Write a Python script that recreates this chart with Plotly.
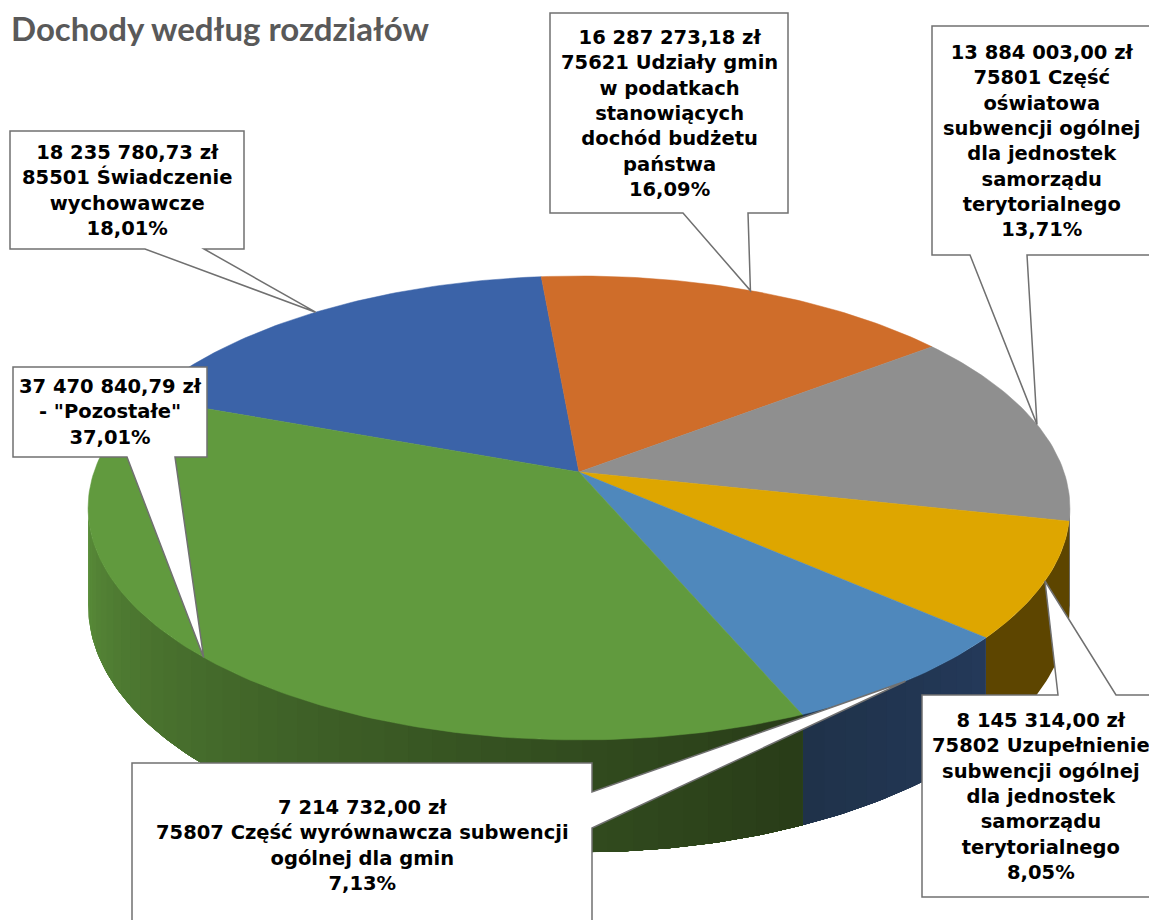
import math
import plotly.graph_objects as go

# ---------------- data ----------------
codes = ["85501 Świadczenie<br>wychowawcze",
         "75621 Udziały gmin<br>w podatkach<br>stanowiących<br>dochód budżetu<br>państwa",
         "75801 Część<br>oświatowa<br>subwencji ogólnej<br>dla jednostek<br>samorządu<br>terytorialnego",
         "75802 Uzupełnienie<br>subwencji ogólnej<br>dla jednostek<br>samorządu<br>terytorialnego",
         "75807 Część wyrównawcza subwencji<br>ogólnej dla gmin",
         "- \"Pozostałe\""]
values = [18235780.73, 16287273.18, 13884003.00, 8145314.00, 7214732.00, 37470840.79]
title_text = "Dochody według rozdziałów"

# ---------------- styles / layout geometry ----------------
W, H = 1149, 920
top_colors = ["#3B63A8", "#CF6D2A", "#8F8F8F", "#DEA600", "#4F88BC", "#619A3E"]
wall_colors = [("#2A3F6E", "#2A3F6E"), ("#7A3F16", "#7A3F16"), ("#4D4D4D", "#4D4D4D"),
               ("#5D4500", "#5D4500"), ("#24395A", "#1F3249"), ("#5C913B", "#283C18")]
CX, CY = 579.0, 472.0      # projected pie centre
A, B, K = 485.0, 226.4, 0.155   # perspective ellipse parameters
D0 = 95.0                  # thickness
START = 160.0              # first slice angle (deg, math convention), clockwise
# callout boxes: (x0, y0, x1, y1, side, b1, b2)
boxes = [(10, 131, 244, 249, "bottom", 145, 204),
         (550, 13, 788, 213, "bottom", 683, 748),
         (932, 26, 1152, 255, "bottom", 970, 1027),
         (922, 695, 1160, 897, "top", 1058, 1116),
         (132, 763, 592, 927, "right", 792, 828),
         (13, 367, 207, 457, "bottom", 127, 175)]
label_font = dict(family="DejaVu Sans", size=19.5, color="#000000")
border = "#707070"


def proj(theta, drop=False):
    t = math.radians(theta)
    u, v = math.cos(t), math.sin(t)
    w = 1 + K * v
    x = CX + A * u / w
    y = CY - B * v / w
    if drop:
        y += D0 / w
    return x, y


def hex2rgb(h):
    h = h.lstrip("#")
    return tuple(int(h[i:i + 2], 16) for i in (0, 2, 4))


def lerp(c1, c2, t):
    a, b = hex2rgb(c1), hex2rgb(c2)
    return "rgb(%d,%d,%d)" % tuple(round(a[i] + (b[i] - a[i]) * t) for i in range(3))


def fmt_amount(v):
    s = "{:,.2f}".format(v)
    ip, dp = s.split(".")
    return ip.replace(",", " ") + "," + dp + " zł"


def angles(a1, a2, step=1.0):
    n = max(2, int(abs(a1 - a2) / step) + 1)
    return [a1 + (a2 - a1) * k / n for k in range(n + 1)]


total = sum(values)
fracs = [v / total for v in values]
starts, ends = [], []
a = START
for f in fracs:
    starts.append(a)
    ends.append(a - 360 * f)
    a -= 360 * f

fig = go.Figure()

# ---------------- side walls (overlapping bands -> no seams) ----------------
phis = math.degrees(math.asin(K))
vis_lo, vis_hi = -180 + phis, -phis
for i in range(len(values)):
    for shift in (-360, 0, 360):
        s, e = starts[i] + shift, ends[i] + shift
        hi, lo = min(s, vis_hi), max(e, vis_lo)
        if hi <= lo:
            continue
        c_light, c_dark = wall_colors[i]
        nseg = max(1, int((hi - lo) / 2.5)) if c_light != c_dark else 1
        for j in range(nseg):
            tt = (j + 0.5) / nseg
            if i == 5:
                # green wall: lighter on the left (lo), darker toward the right (hi)
                a1 = lo + (hi - lo) * j / nseg
                col = lerp(c_light, c_dark, tt ** 0.8)
                angs = angles(a1, hi)
            else:
                a1 = hi - (hi - lo) * j / nseg
                col = lerp(c_light, c_dark, tt)
                angs = angles(a1, lo)
            top = [proj(p) for p in angs]
            bot = [proj(p, True) for p in reversed(angs)]
            xs = [p[0] for p in top] + [p[0] for p in bot]
            ys = [p[1] for p in top] + [p[1] for p in bot]
            fig.add_trace(go.Scatter(x=xs, y=ys, mode="lines", fill="toself",
                                     fillcolor=col, line=dict(width=0),
                                     hoverinfo="skip", showlegend=False))

# ---------------- top faces ----------------
for i in range(len(values)):
    pts = [proj(p) for p in angles(starts[i], ends[i])]
    xs = [CX] + [p[0] for p in pts] + [CX]
    ys = [CY] + [p[1] for p in pts] + [CY]
    fig.add_trace(go.Scatter(x=xs, y=ys, mode="lines", fill="toself",
                             fillcolor=top_colors[i], line=dict(color=top_colors[i], width=0.5),
                             hoverinfo="skip", showlegend=False, name=codes[i]))

# ---------------- callouts ----------------
shapes = []
annotations = []
for i in range(len(values)):
    x0, y0, x1, y1, side, b1, b2 = boxes[i]
    mid = (starts[i] + ends[i]) / 2
    tx, ty = proj(mid)
    if side == "bottom":
        path = f"M{x0},{y0} L{x1},{y0} L{x1},{y1} L{b2},{y1} L{tx},{ty} L{b1},{y1} L{x0},{y1} Z"
    elif side == "top":
        path = f"M{x0},{y0} L{b1},{y0} L{tx},{ty} L{b2},{y0} L{x1},{y0} L{x1},{y1} L{x0},{y1} Z"
    else:
        path = f"M{x0},{y0} L{x1},{y0} L{x1},{b1} L{tx},{ty} L{x1},{b2} L{x1},{y1} L{x0},{y1} Z"
    shapes.append(dict(type="path", path=path, xref="x", yref="y", layer="above",
                       fillcolor="#FFFFFF", line=dict(color=border, width=1.5)))
    pct = "{:.2f}".format(fracs[i] * 100).replace(".", ",") + "%"
    txt = "<b>" + fmt_amount(values[i]) + "<br>" + codes[i] + "<br>" + pct + "</b>"
    annotations.append(dict(x=(x0 + x1) / 2, y=(y0 + y1) / 2, xref="x", yref="y",
                            text=txt, showarrow=False, xanchor="center", yanchor="middle",
                            align="center", font=label_font))

annotations.append(dict(x=9, y=28, xref="x", yref="y", text="<b>" + title_text + "</b>",
                        showarrow=False, xanchor="left", yanchor="middle",
                        font=dict(family="Lato", size=33, color="#595959")))

fig.update_layout(
    width=W, height=H, margin=dict(l=0, r=0, t=0, b=0),
    paper_bgcolor="#FFFFFF", plot_bgcolor="#FFFFFF",
    xaxis=dict(range=[0, W], visible=False, fixedrange=True),
    yaxis=dict(range=[H, 0], visible=False, fixedrange=True),
    shapes=shapes, annotations=annotations, showlegend=False,
)

fig.write_html("out.html", config={"displayModeBar": False},
               post_script="document.body.style.margin='0';document.body.style.overflow='hidden';")
